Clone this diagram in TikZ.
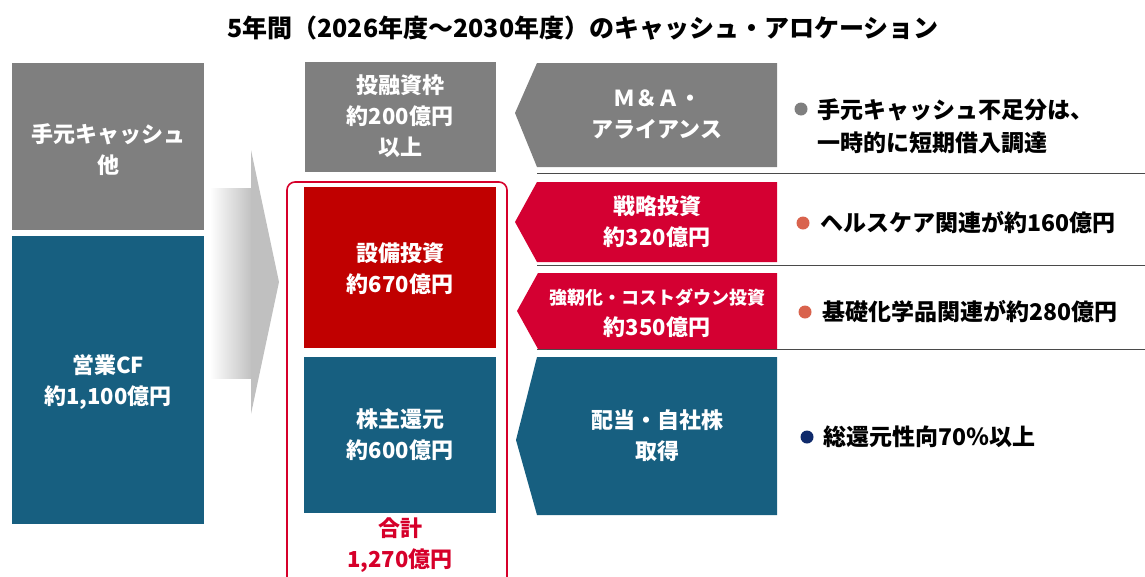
\documentclass[tikz,border=0pt]{standalone}
\usepackage{fontspec}
\setmainfont{Noto Sans CJK JP}
\usetikzlibrary{shadings}
\definecolor{cgray}{HTML}{7F7F7F}
\definecolor{cblue}{HTML}{175F80}
\definecolor{cred}{HTML}{C00000}
\definecolor{ccrim}{HTML}{D40032}
\definecolor{coutl}{HTML}{D6002A}
\definecolor{corg}{HTML}{D9634D}
\definecolor{cnavy}{HTML}{0F2A6B}
\definecolor{carr}{HTML}{C0C0C0}
\definecolor{cline}{HTML}{4A4A4A}
\tikzset{
  boxtxt/.style={text=white, font=\bfseries\fontsize{22}{31}\selectfont, align=center, inner sep=0pt},
  bultxt/.style={text=black, font=\bfseries\fontsize{23}{33}\selectfont, align=left, anchor=west, inner sep=0pt},
  sepline/.style={draw=cline, line width=1pt},
  bdot/.style={circle, inner sep=0pt, minimum size=13pt},
}
\begin{document}
\begin{tikzpicture}[x=1pt,y=-1pt]
\useasboundingbox (0,0) rectangle (1145,576);
\clip (0,0) rectangle (1145,576);
% title
\node[font=\bfseries\fontsize{25}{25}\selectfont, inner sep=0pt] (title) at (583,28) {5年間（2026年度～2030年度）のキャッシュ・アロケーション};
% left column
\fill[cgray] (12,63) rectangle (204,230);
\fill[cblue] (12,236) rectangle (204,524);
\node[boxtxt] (cash) at (108,150) {手元キャッシュ\\他};
\node[boxtxt] (opcf) at (108,382) {営業CF\\約1,100億円};
% big arrow
\shade[left color=white, right color=carr] (210,188) rectangle (252,378);
\fill[carr] (251,150) -- (279,282) -- (251,414) -- cycle;
% middle column
\draw[coutl, line width=1.6pt, rounded corners=8pt] (287,620) -- (287,182) -- (507,182) -- (507,620);
\fill[cgray] (305,62) rectangle (496,172);
\fill[cred] (304,187) rectangle (496,348);
\fill[cblue] (304,357) rectangle (496,513);
\node[boxtxt] (inv) at (400,116) {投融資枠\\約200億円\\以上};
\node[boxtxt] (capex) at (400,269) {設備投資\\約670億円};
\node[boxtxt] (ret) at (400,435) {株主還元\\約600億円};
\node[boxtxt, text=coutl] (total) at (400,545) {合計\\1,270億円};
% separator lines
\coordinate (l1a) at (537,173); \coordinate (l1b) at (1145,173);
\coordinate (l2a) at (537,265); \coordinate (l2b) at (1145,265);
\coordinate (l3a) at (537,349); \coordinate (l3b) at (1145,349);
\draw[sepline] (l1a) -- (l1b);
\draw[sepline] (l2a) -- (l2b);
% chevrons
\fill[cgray] (537,63) -- (777,63) -- (777,167) -- (537,167) -- (515,113) -- cycle;
\fill[ccrim] (537,182) -- (777,182) -- (777,262) -- (537,262) -- (515,222) -- cycle;
\fill[ccrim] (538,273) -- (777,273) -- (777,349) -- (538,349) -- (517,311) -- cycle;
\fill[cblue] (537,357) -- (777,357) -- (777,515) -- (537,515) -- (516,440) -- cycle;
\draw[sepline] (l3a) -- (l3b);
\node[boxtxt] (ma) at (657,114) {Ｍ＆Ａ・\\アライアンス};
\node[boxtxt] (strat) at (657,222) {戦略投資\\約320億円};
\node[inner sep=0pt, text=white, font=\bfseries\fontsize{18}{18}\selectfont] (robust1) at (657,298) {強靭化・コストダウン投資};
\node[inner sep=0pt, text=white, font=\bfseries\fontsize{22}{22}\selectfont] (robust2) at (657,327) {約350億円};
\node[boxtxt] (div) at (657,436) {配当・自社株\\取得};
% bullets
\node[bdot, fill=cgray] (d1) at (801,109) {};
\node[bultxt] (b1) at (817,126) {手元キャッシュ不足分は、\\一時的に短期借入調達};
\node[bdot, fill=corg] (d2) at (803,223) {};
\node[bultxt] (b2) at (820,223) {ヘルスケア関連が約160億円};
\node[bdot, fill=corg] (d3) at (805,312) {};
\node[bultxt] (b3) at (822,312) {基礎化学品関連が約280億円};
\node[bdot, fill=cnavy] (d4) at (807,437) {};
\node[bultxt] (b4) at (823,437) {総還元性向70％以上};
\end{tikzpicture}
\end{document}
